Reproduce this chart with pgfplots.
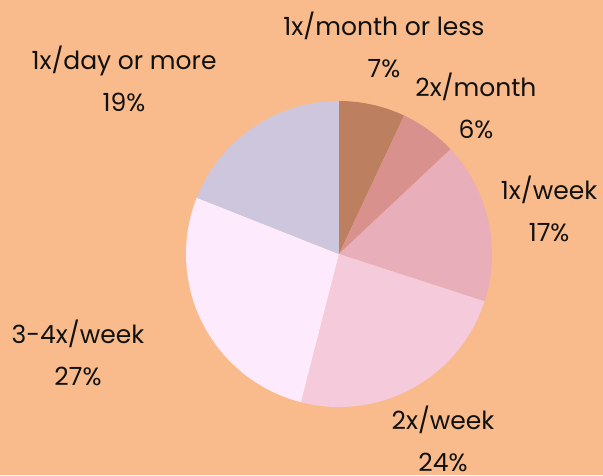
\documentclass[border=0pt]{standalone}
\usepackage{pgfplots}
\usepackage{pgfplotstable}
\pgfplotsset{compat=1.18}
\usepackage{fontspec}
\setmainfont{Poppins}
\definecolor{bg}{HTML}{F9BB8B}
\definecolor{cA}{HTML}{BC7F5F}
\definecolor{cB}{HTML}{D9918D}
\definecolor{cC}{HTML}{E8AEB9}
\definecolor{cD}{HTML}{F5CADB}
\definecolor{cE}{HTML}{FDEAFC}
\definecolor{cF}{HTML}{CDC6DD}
\definecolor{txt}{HTML}{111111}
\pgfplotstableread{
label pct
a 7
b 6
c 17
d 24
e 27
f 19
}\datatable
\begin{document}
\begin{tikzpicture}
\pgfplotstablegetelem{0}{pct}\of\datatable \let\pA\pgfplotsretval
\pgfplotstablegetelem{1}{pct}\of\datatable \let\pB\pgfplotsretval
\pgfplotstablegetelem{2}{pct}\of\datatable \let\pC\pgfplotsretval
\pgfplotstablegetelem{3}{pct}\of\datatable \let\pD\pgfplotsretval
\pgfplotstablegetelem{4}{pct}\of\datatable \let\pE\pgfplotsretval
\pgfplotstablegetelem{5}{pct}\of\datatable \let\pF\pgfplotsretval
\pgfmathsetmacro\aA{90-3.6*\pA}
\pgfmathsetmacro\aB{\aA-3.6*\pB}
\pgfmathsetmacro\aC{\aB-3.6*\pC}
\pgfmathsetmacro\aD{\aC-3.6*\pD}
\pgfmathsetmacro\aE{\aD-3.6*\pE}
\pgfmathsetmacro\aF{\aE-3.6*\pF}
\fill[bg] (-339pt,-221pt) rectangle (264pt,254pt);
\begin{axis}[
  at={(0,0)}, anchor=center,
  scale only axis, width=306pt, height=306pt,
  xmin=-1, xmax=1, ymin=-1, ymax=1,
  hide axis, clip=false,
]
\addplot[draw=none] coordinates {(0,0)};
\fill[cA] (axis cs:0,0) -- (axis cs:{cos(90)},{sin(90)}) arc[start angle=90, end angle=\aA, radius=153pt] -- cycle;
\fill[cB] (axis cs:0,0) -- (axis cs:{cos(\aA)},{sin(\aA)}) arc[start angle=\aA, end angle=\aB, radius=153pt] -- cycle;
\fill[cC] (axis cs:0,0) -- (axis cs:{cos(\aB)},{sin(\aB)}) arc[start angle=\aB, end angle=\aC, radius=153pt] -- cycle;
\fill[cD] (axis cs:0,0) -- (axis cs:{cos(\aC)},{sin(\aC)}) arc[start angle=\aC, end angle=\aD, radius=153pt] -- cycle;
\fill[cE] (axis cs:0,0) -- (axis cs:{cos(\aD)},{sin(\aD)}) arc[start angle=\aD, end angle=\aE, radius=153pt] -- cycle;
\fill[cF] (axis cs:0,0) -- (axis cs:{cos(\aE)},{sin(\aE)}) arc[start angle=\aE, end angle=\aF, radius=153pt] -- cycle;
\tikzset{lbl/.style={align=center, text=txt, font=\fontsize{25}{42}\selectfont, inner sep=0pt}}
\node[lbl] at (axis cs:0.294,1.366) {1x/month or less\\7\%};
\node[lbl] at (axis cs:0.895,0.967) {2x/month\\6\%};
\node[lbl] at (axis cs:1.373,0.294) {1x/week\\17\%};
\node[lbl] at (axis cs:0.680,-1.21) {2x/week\\24\%};
\node[lbl] at (axis cs:-1.706,-0.647) {3-4x/week\\27\%};
\node[lbl] at (axis cs:-1.405,1.144) {1x/day or more\\19\%};
\end{axis}
\pgfresetboundingbox
\path (-339pt,-221pt) rectangle (264pt,254pt);
\end{tikzpicture}
\end{document}
